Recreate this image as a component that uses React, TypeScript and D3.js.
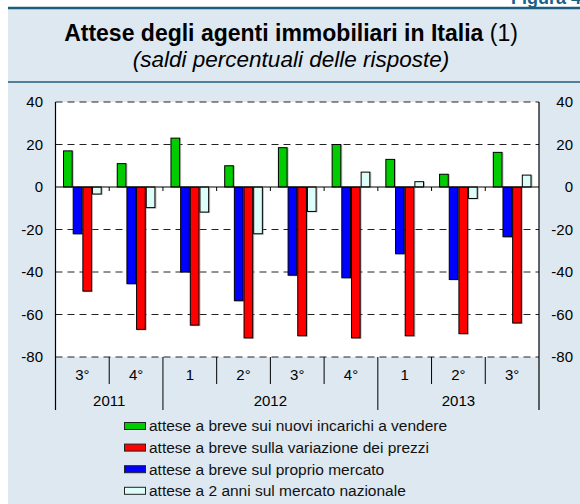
import React, { useRef, useEffect } from 'react';
import * as d3 from 'd3';

// trimestri e anni
const quarters = ['3°', '4°', '1', '2°', '3°', '4°', '1', '2°', '3°'];
const yearLabels = ['2011', '2012', '2013'];
const yearSpans = [2, 4, 3];

// saldi percentuali
const nuoviIncarichi = [17, 11, 23, 10, 18.5, 20, 13, 6, 16.3];
const proprioMercato = [-22, -45.5, -40, -53.5, -41.5, -42.7, -31.4, -43.5, -23.4];
const variazionePrezzi = [-49, -67, -65, -71, -70, -71, -70, -69, -64];
const mercatoNazionale = [-3.3, -9.7, -11.8, -22, -11.5, 7, 2.5, -5.4, 5.6];

const yTicks = [40, 20, 0, -20, -40, -60, -80];

const series = [
  { key: 'nuovi', label: 'attese a breve sui nuovi incarichi a vendere', color: '#00cc00', values: nuoviIncarichi },
  { key: 'prezzi', label: 'attese a breve sulla variazione dei prezzi', color: '#ff0000', values: variazionePrezzi },
  { key: 'mercato', label: 'attese a breve sul proprio mercato', color: '#0000ff', values: proprioMercato },
  { key: 'nazionale', label: 'attese a 2 anni sul mercato nazionale', color: '#dcfdf8', values: mercatoNazionale },
];
// ordine delle barre nel gruppo
const barOrder = ['nuovi', 'mercato', 'prezzi', 'nazionale'];

const font = '"Liberation Sans", Arial, Helvetica, sans-serif';

const App = () => {
  const ref = useRef<SVGSVGElement>(null);

  useEffect(() => {
    const svg = d3.select(ref.current);
    svg.selectAll('*').remove();

    const W = 580;
    const left = 55.5, right = 539, top = 102, bottom = 357;

    // sfondo
    svg.append('rect').attr('x', 8).attr('y', 8).attr('width', W - 8).attr('height', 504 - 8).attr('fill', '#dde8f1');
    svg.append('rect').attr('x', left).attr('y', top).attr('width', right - left).attr('height', bottom - top).attr('fill', '#fff');

    // "Figura" tagliata in alto
    svg.append('text')
      .attr('x', 586).attr('y', 4)
      .attr('text-anchor', 'end')
      .attr('font-family', font).attr('font-weight', 'bold').attr('font-size', 18)
      .attr('fill', '#1a6088')
      .text('Figura 4.');
    svg.append('line').attr('x1', 8).attr('x2', W).attr('y1', 8).attr('y2', 8)
      .attr('stroke', '#1d5d7c').attr('stroke-width', 2.5);
    svg.append('line').attr('x1', 8).attr('x2', W).attr('y1', 82).attr('y2', 82)
      .attr('stroke', '#1d5d7c').attr('stroke-width', 1.5);

    // titolo
    const title = svg.append('text')
      .attr('x', 291).attr('y', 41)
      .attr('text-anchor', 'middle')
      .attr('font-family', font).attr('font-size', 23).attr('fill', '#000');
    title.append('tspan').attr('font-weight', 'bold').text('Attese degli agenti immobiliari in Italia ');
    title.append('tspan').text('(1)');
    svg.append('text')
      .attr('x', 291).attr('y', 67)
      .attr('text-anchor', 'middle')
      .attr('font-family', font).attr('font-size', 22.5).attr('font-style', 'italic')
      .text('(saldi percentuali delle risposte)');

    // scale
    const x0 = d3.scaleBand<number>()
      .domain(d3.range(quarters.length))
      .range([left, right])
      .paddingInner(0.28)
      .paddingOuter(0.14);
    const x1 = d3.scaleBand<string>()
      .domain(barOrder)
      .range([0, x0.bandwidth()]);
    const y = d3.scaleLinear().domain([-80, 40]).range([bottom, top]);
    const step = x0.step();
    const edge = (i: number) => left + i * step;

    // griglia tratteggiata
    svg.append('g').selectAll('line')
      .data(yTicks.filter(d => d !== 0))
      .enter().append('line')
      .attr('x1', left).attr('x2', right)
      .attr('y1', d => y(d)).attr('y2', d => y(d))
      .attr('stroke', '#222').attr('stroke-width', 1)
      .attr('stroke-dasharray', '7,5');

    // etichette asse y
    const yl = svg.append('g').attr('font-family', font).attr('font-size', 15).attr('fill', '#000');
    yl.selectAll('.yl').data(yTicks).enter().append('text')
      .attr('x', 43).attr('y', d => y(d)).attr('dy', '0.35em')
      .attr('text-anchor', 'end').text(d => d);
    yl.selectAll('.yr').data(yTicks).enter().append('text')
      .attr('x', 573).attr('y', d => y(d)).attr('dy', '0.35em')
      .attr('text-anchor', 'end').text(d => d);

    // barre
    const seriesByKey = new Map(series.map(s => [s.key, s]));
    const bars = svg.append('g');
    quarters.forEach((_, i) => {
      barOrder.forEach(k => {
        const s = seriesByKey.get(k)!;
        const v = s.values[i];
        const bx = x0(i)! + x1(k)!;
        const by = Math.min(y(v), y(0));
        const bh = Math.abs(y(v) - y(0));
        bars.append('rect')
          .attr('x', bx + 1).attr('y', by + (v < 0 ? 1 : 0))
          .attr('width', x1.bandwidth()).attr('height', bh)
          .attr('fill', '#777').attr('opacity', 0.5);
        bars.append('rect')
          .attr('x', bx + 0.5).attr('y', by)
          .attr('width', x1.bandwidth() - 1).attr('height', bh)
          .attr('fill', s.color).attr('stroke', '#000').attr('stroke-width', 1);
      });
    });

    // linea dello zero e tacche
    svg.append('line').attr('x1', left).attr('x2', right).attr('y1', y(0)).attr('y2', y(0))
      .attr('stroke', '#000').attr('stroke-width', 1.2);
    svg.append('g').selectAll('line')
      .data(d3.range(1, quarters.length))
      .enter().append('line')
      .attr('x1', d => edge(d)).attr('x2', d => edge(d))
      .attr('y1', y(0)).attr('y2', y(0) + 4)
      .attr('stroke', '#000').attr('stroke-width', 1);

    // bordi verticali
    [left, right].forEach(xx => {
      svg.append('line').attr('x1', xx).attr('x2', xx).attr('y1', top).attr('y2', 410)
        .attr('stroke', '#000').attr('stroke-width', 1.2);
    });

    // asse x: trimestri
    const yearEdges = d3.cumsum(yearSpans);
    const ax = svg.append('g').attr('font-family', font).attr('font-size', 15).attr('fill', '#000');
    d3.range(1, quarters.length).forEach(i => {
      const isYear = yearEdges.includes(i);
      ax.append('line')
        .attr('x1', edge(i)).attr('x2', edge(i))
        .attr('y1', bottom).attr('y2', isYear ? 410 : 384)
        .attr('stroke', '#000').attr('stroke-width', 1);
    });
    ax.selectAll('.q').data(quarters).enter().append('text')
      .attr('x', (_, i) => edge(i) + step / 2).attr('y', 380)
      .attr('text-anchor', 'middle').text(d => d);
    yearLabels.forEach((lab, j) => {
      const start = j === 0 ? 0 : yearEdges[j - 1];
      ax.append('text')
        .attr('x', edge(start) + (yearSpans[j] * step) / 2).attr('y', 406)
        .attr('text-anchor', 'middle').text(lab);
    });

    // legenda
    const lg = svg.append('g').attr('font-family', font).attr('font-size', 15.5);
    series.forEach((s, i) => {
      const cy = 426 + i * 21.6;
      lg.append('rect').attr('x', 124.5).attr('y', cy - 3.5).attr('width', 21).attr('height', 7)
        .attr('fill', s.color).attr('stroke', '#222').attr('stroke-width', 1);
      lg.append('text').attr('x', 149).attr('y', cy).attr('dy', '0.35em').attr('fill', '#111').text(s.label);
    });
  }, []);

  return (
    <div style={{ position: 'absolute', left: 0, top: 0 }}>
      <svg ref={ref} width={580} height={504} style={{ display: 'block' }} />
    </div>
  );
};

export default App;
